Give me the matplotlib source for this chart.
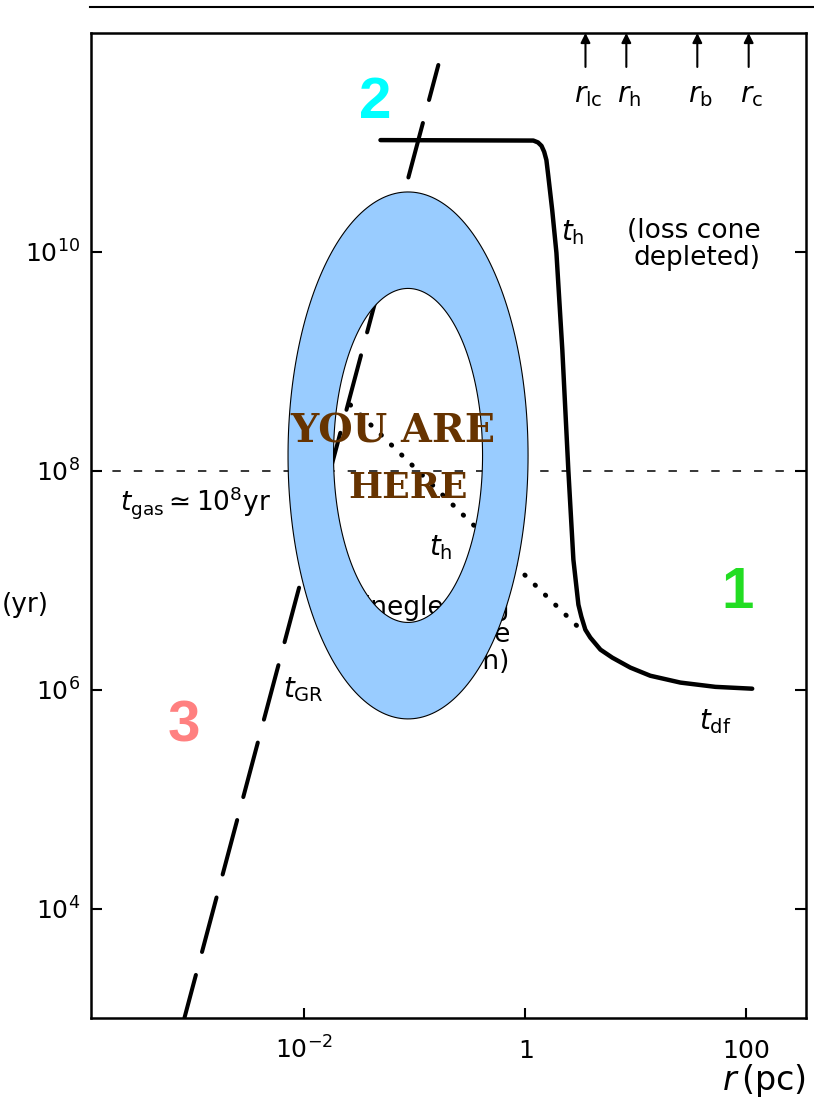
import numpy as np
import matplotlib

matplotlib.use('Agg')
import matplotlib.pyplot as plt
from matplotlib.lines import Line2D
from matplotlib.path import Path
from matplotlib.patches import PathPatch

plt.rcParams['font.family'] = ['DejaVu Sans']
plt.rcParams['mathtext.fontset'] = 'dejavusans'

# hardening time with the loss cone depleted, joining onto dynamical friction
r_h = [0.0488, 1.18, 1.30, 1.40, 1.48, 1.55, 1.61, 1.75, 1.91, 2.16, 2.45, 2.72,
       3.02, 3.21, 3.49, 3.87, 4.78, 6.12, 8.91, 13.5, 25.3, 52.5, 113.0]
t_h = [1.05e11, 1.04e11, 1.0e11, 9.3e10, 8.2e10, 6.9e10, 5.0e10, 2.4e10, 9.8e9, 1.27e9,
       1.0e8, 1.54e7, 5.97e6, 4.65e6, 3.53e6, 2.99e6, 2.32e6, 1.96e6, 1.59e6,
       1.34e6, 1.16e6, 1.06e6, 1.02e6]

# hardening time neglecting loss cone depletion
r_full = [0.026, 3.56]
t_full = [4.0e8, 3.16e6]

# gravitational radiation time
r_gr = [0.163, 8.2e-4]
t_gr = [5.1e11, 1.0e3]

t_gas = 1e8

# characteristic radii marked along the top
radii = [3.5, 8.2, 36.0, 105.0]
radii_labels = [r'$r_{\rm lc}$', r'$r_{\rm h}$', r'$r_{\rm b}$', r'$r_{\rm c}$']

xticks = [1e-2, 1, 100]
xtick_labels = [r'$10^{-2}$', r'$1$', r'$100$']
yticks = [1e4, 1e6, 1e8, 1e10]
ytick_labels = [r'$10^{4}$', r'$10^{6}$', r'$10^{8}$', r'$10^{10}$']

regions = ['1', '2', '3']
region_r = [83.0, 0.044, 8.1e-4]
region_t = [5.6e6, 1.67e11, 3.35e5]
region_colors = ['#22dd22', '#00ffff', '#ff8080']


def ring_path(cx, cy, w_out, h_out, w_in, h_in, n=240):
    """Closed elliptical annulus, outer ring counter-clockwise and inner clockwise"""
    th = np.linspace(0, 2 * np.pi, n)
    outer = np.column_stack([cx + w_out / 2 * np.cos(th), cy + h_out / 2 * np.sin(th)])
    inner = np.column_stack([cx + w_in / 2 * np.cos(th[::-1]), cy + h_in / 2 * np.sin(th[::-1])])
    verts = np.concatenate([outer, inner])
    codes = np.full(len(verts), Path.LINETO)
    codes[0] = Path.MOVETO
    codes[n] = Path.MOVETO
    return Path(verts, codes)


fig = plt.figure(figsize=(8.14, 11.03), dpi=100)
ax = fig.add_axes([0.1118, 0.0771, 0.8784, 0.893])
ax.set_xscale('log')
ax.set_yscale('log')
ax.set_xlim(1.17e-4, 347)
ax.set_ylim(1e3, 1e12)

ax.plot(r_h, t_h, color='k', lw=3.2, solid_joinstyle='round', solid_capstyle='round', zorder=2)
ax.plot(r_full, t_full, color='k', lw=3.5, linestyle=(0, (0.1, 2.85)),
        dash_capstyle='round', zorder=2)
ax.plot(r_gr, t_gr, color='k', lw=2.9, linestyle=(5, (14, 5.9)), dash_capstyle='round', zorder=2)
ax.axhline(t_gas, color='k', lw=1.1, linestyle=(0, (5.5, 8.5)), zorder=2)

for spine in ax.spines.values():
    spine.set_linewidth(1.8)

ax.minorticks_off()
ax.set_xticks(xticks, xtick_labels)
ax.set_yticks(yticks, ytick_labels)
ax.tick_params(axis='x', which='major', direction='in', length=7, width=1.5,
               labelsize=18, pad=29, bottom=True, top=False)
ax.tick_params(axis='y', which='major', direction='in', length=8, width=1.5,
               labelsize=18, pad=8, left=True, right=True)
for lbl in ax.get_xticklabels():
    lbl.set_verticalalignment('baseline')

# arrows for the characteristic radii
for r, lab in zip(radii, radii_labels):
    ax.annotate('', xy=(r, 1.0), xycoords=('data', 'axes fraction'),
                xytext=(r, 0.9655), textcoords=('data', 'axes fraction'),
                arrowprops=dict(arrowstyle='-|>', color='k', lw=1.5,
                                mutation_scale=14, shrinkA=0, shrinkB=0))
    ax.annotate(lab, xy=(r, 0.9375), xycoords=('data', 'axes fraction'),
                xytext=(2, 0), textcoords='offset points',
                ha='center', va='center', fontsize=20)

ax.text(2.16e-4, 5.1e7, r'$t_{\rm gas} \simeq 10^{8}{\rm yr}$', fontsize=19,
        ha='left', va='center', zorder=3)
ax.text(2.66, 1.5e10, r'$t_{\rm h}$', fontsize=20, ha='center', va='center', zorder=3)
ax.text(134, 1.16e10, '(loss cone\ndepleted)', fontsize=19, ha='right', va='center',
        multialignment='right', linespacing=1.05, zorder=3)
ax.text(0.17, 1.98e7, r'$t_{\rm h}$', fontsize=20, ha='center', va='center', zorder=3)
ax.text(0.73, 3.16e6, '(neglecting\nloss cone\ndepletion)', fontsize=19, ha='right',
        va='center', multialignment='right', linespacing=1.05, zorder=3)
ax.text(9.8e-3, 1.0e6, r'$t_{\rm GR}$', fontsize=20, ha='center', va='center', zorder=3)
ax.text(52, 5.1e5, r'$t_{\rm df}$', fontsize=20, ha='center', va='center', zorder=3)

ax.text(-0.092, 0.419, '(yr)', transform=ax.transAxes, fontsize=19, ha='center', va='center')
ax.text(1.0, -0.063, r'$r\,$(pc)', transform=ax.transAxes, fontsize=24, ha='right', va='center')

# highlight ring with its caption
ring = PathPatch(ring_path(0.4434, 0.5711, 0.3357, 0.5350, 0.2084, 0.3391),
                 facecolor='#99ccff', edgecolor='k', lw=0.8, transform=ax.transAxes, zorder=5)
ax.add_patch(ring)
ax.text(0.4217, 0.5838, 'YOU ARE', transform=ax.transAxes, family='DejaVu Serif',
        fontweight='bold', fontsize=28.5, color='#663300', ha='center', va='baseline', zorder=6)
ax.text(0.4427, 0.5279, 'HERE', transform=ax.transAxes, family='DejaVu Serif',
        fontweight='bold', fontsize=26, color='#663300', ha='center', va='baseline', zorder=6)

for lab, r, t, c in zip(regions, region_r, region_t, region_colors):
    ax.text(r, t, lab, color=c, fontsize=42, fontweight='bold', family='Liberation Sans',
            ha='center', va='baseline', zorder=6)

# rule across the top of the page
fig.add_artist(Line2D([90 / 814, 1.0], [1 - 7 / 1103, 1 - 7 / 1103], color='k', lw=1.5,
                      transform=fig.transFigure))

fig.savefig('out.png', dpi=100)
